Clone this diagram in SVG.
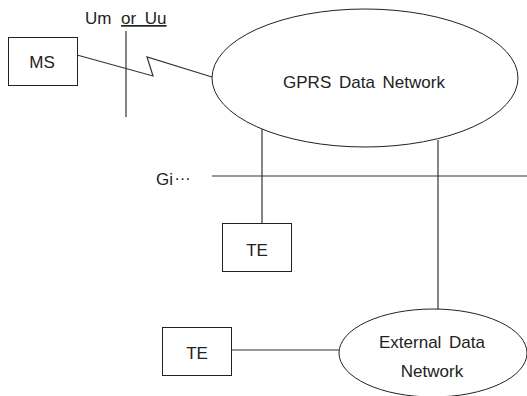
<svg xmlns="http://www.w3.org/2000/svg" width="527" height="396" viewBox="0 0 527 396">
  <style>
    .box { fill: #fff; stroke: #222; stroke-width: 1; }
    .net { fill: #fff; stroke: #222; stroke-width: 1; }
    .wire { fill: none; stroke: #333; stroke-width: 1.2; }
    .lbl { font-family: "Liberation Sans", Arial, sans-serif; font-size: 17px; fill: #222; }
    .mid { text-anchor: middle; }
  </style>
  <rect width="527" height="396" fill="#fff"/>

  <!-- interface markers and reference points -->
  <g id="interfaces">
    <line class="wire" x1="126" y1="31" x2="126" y2="117"/>
    <text class="lbl" x="85" y="24">Um</text>
    <text class="lbl" x="121" y="24" text-decoration="underline" word-spacing="4">or Uu</text>
    <line class="wire" x1="212" y1="176" x2="527" y2="176"/>
    <!-- ellipsis raised to the middle of the line -->
    <text class="lbl" x="156" y="185">Gi<tspan dx="1" dy="-5">…</tspan></text>
  </g>

  <!-- connectors -->
  <g id="connectors">
    <polyline class="wire" points="77,55 153,76 147,57 212,77"/>
    <line class="wire" x1="262" y1="129" x2="262" y2="223"/>
    <line class="wire" x1="438" y1="140" x2="438" y2="309"/>
    <line class="wire" x1="232" y1="350" x2="339" y2="350"/>
  </g>

  <g id="ms">
    <rect class="box" x="8.5" y="37.5" width="69" height="48"/>
    <text class="lbl mid" x="42" y="68">MS</text>
  </g>

  <g id="gprs">
    <ellipse class="net" cx="365" cy="78" rx="153" ry="69"/>
    <text class="lbl mid" x="364" y="88" word-spacing="3">GPRS Data Network</text>
  </g>

  <g id="te1">
    <rect class="box" x="222.5" y="223.5" width="69" height="48"/>
    <text class="lbl mid" x="257" y="256">TE</text>
  </g>

  <g id="te2">
    <rect class="box" x="162.5" y="327.5" width="69" height="48"/>
    <text class="lbl mid" x="197" y="359">TE</text>
  </g>

  <g id="external">
    <ellipse class="net" cx="433" cy="353" rx="94" ry="44"/>
    <text class="lbl mid" x="432" y="348" word-spacing="3">External Data</text>
    <text class="lbl mid" x="432" y="377">Network</text>
  </g>
</svg>
